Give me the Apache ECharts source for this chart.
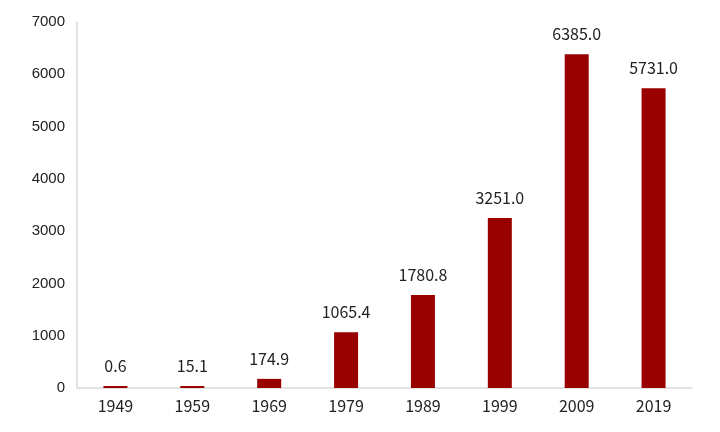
<!DOCTYPE html>
<html><head><meta charset="utf-8">
<script src="https://cdn.jsdelivr.net/npm/echarts@6/dist/echarts.min.js"></script>
<style>html,body{margin:0;padding:0;background:#fff}#c{width:720px;height:432px}</style>
</head><body><div id="c"></div>
<script>
const categories = ['1949','1959','1969','1979','1989','1999','2009','2019'];
const values = [0.6, 15.1, 174.9, 1065.4, 1780.8, 3251.0, 6385.0, 5731.0];
const chart = echarts.init(document.getElementById('c'));
chart.setOption({
  animation: false,
  grid: {left: 77, right: 28, top: 22, bottom: 44},
  xAxis: {
    type: 'category', data: categories,
    axisLine: {lineStyle: {color: '#d9d9d9', width: 1.5}},
    axisTick: {show: false},
    axisLabel: {color: '#222', fontSize: 16, fontFamily: 'Noto Sans CJK SC', margin: 10}
  },
  yAxis: {
    type: 'value', min: 0, max: 7000, interval: 1000,
    axisLine: {show: true, lineStyle: {color: '#d9d9d9', width: 1.5}},
    axisTick: {show: false},
    splitLine: {show: false},
    axisLabel: {color: '#222', fontSize: 15, fontFamily: 'Liberation Sans', margin: 12,
      formatter: v => String(v)}
  },
  series: [{
    type: 'bar', data: values, barWidth: 24, barMinHeight: 2,
    itemStyle: {color: '#990000'},
    label: {
      show: true, position: 'top', distance: 12,
      color: '#222', fontSize: 16, fontFamily: 'Noto Sans CJK SC',
      formatter: p => p.value.toFixed(1)
    }
  }]
});
</script></body></html>
